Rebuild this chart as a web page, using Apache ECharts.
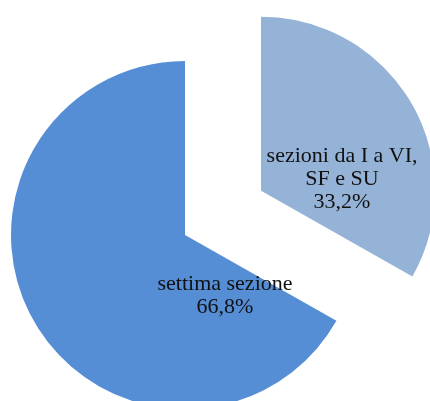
<!DOCTYPE html>
<html>
<head>
<meta charset="utf-8">
<script src="https://cdn.jsdelivr.net/npm/echarts@6/dist/echarts.min.js"></script>
<style>
  html, body { margin: 0; padding: 0; background: #fff; }
  #chart { width: 430px; height: 401px; }
</style>
</head>
<body>
<div id="chart"></div>
<script>
var categories = ['sezioni da I a VI,\nSF e SU', 'settima sezione'];
var values = [33.2, 66.8];
var colors = ['#95B3D7', '#558ED5'];
var exploded = [true, false];

// pie geometry
var cx = 185, cy = 235, r = 174, explode = 88;
// label centres, relative to each slice's own pie centre
var labelOffsets = [[81, -11], [40, 61]];

var chart = echarts.init(document.getElementById('chart'));

var total = values.reduce(function (a, b) { return a + b; }, 0);

// one pie series per slice, so that a slice can be pulled out
// along its bisector while the others stay in place
var series = categories.map(function (name, k) {
  var before = 0;
  for (var j = 0; j < k; j++) before += values[j];
  var mid = (before + values[k] / 2) / total * 2 * Math.PI;
  var d = exploded[k] ? explode : 0;
  var sx = cx + Math.sin(mid) * d;
  var sy = cy - Math.cos(mid) * d;
  return {
    type: 'pie',
    center: [sx, sy],
    radius: r,
    startAngle: 90,
    clockwise: true,
    silent: true,
    emphasis: { disabled: true },
    data: categories.map(function (n, i) {
      var own = i === k;
      return {
        name: n,
        value: values[i],
        itemStyle: { color: own ? colors[i] : 'rgba(0,0,0,0)' },
        label: { show: own }
      };
    }),
    label: {
      position: 'inside',
      fontFamily: '"Liberation Serif", "Times New Roman", serif',
      fontSize: 22,
      lineHeight: 23,
      color: '#111',
      align: 'center',
      formatter: function (p) {
        return p.name + '\n' + p.value.toFixed(1).replace('.', ',') + '%';
      }
    },
    labelLine: { show: false },
    labelLayout: function (params) {
      return {
        x: sx + labelOffsets[k][0],
        y: sy + labelOffsets[k][1],
        align: 'center',
        verticalAlign: 'middle'
      };
    }
  };
});

chart.setOption({
  animation: false,
  series: series
});
</script>
</body>
</html>
